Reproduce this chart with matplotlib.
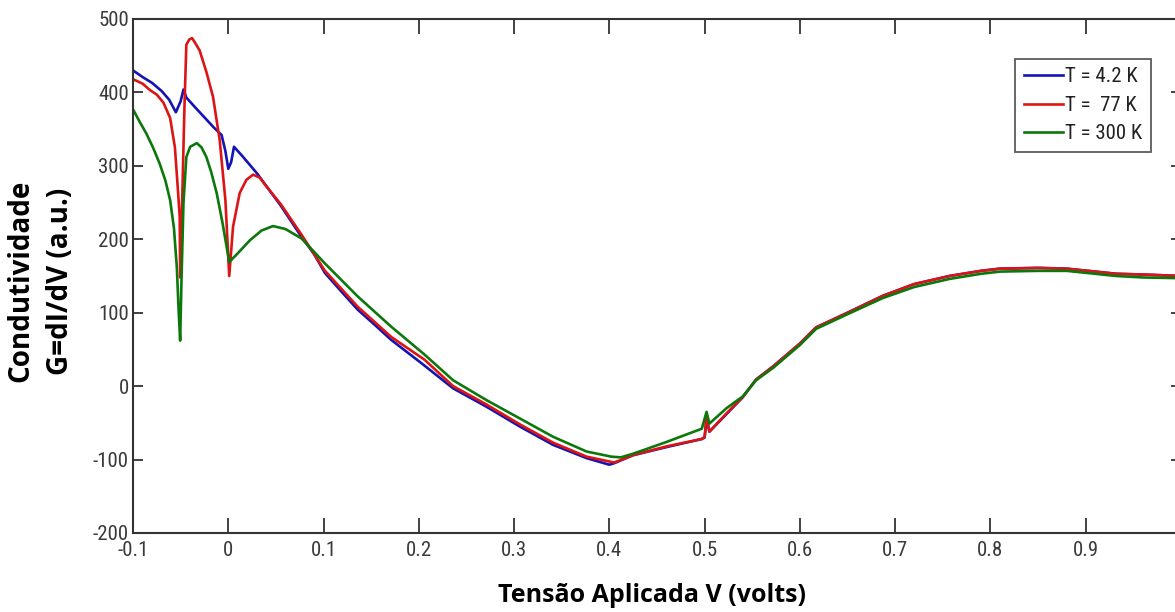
import matplotlib
matplotlib.use("Agg")
import matplotlib.pyplot as plt
from matplotlib import font_manager
from matplotlib.font_manager import FontProperties

# Conductance curves G = dI/dV at three temperatures
v_42 = [-0.100, -0.090, -0.080, -0.070, -0.062, -0.055, -0.050, -0.047, -0.044, -0.035,
        -0.025, -0.015, -0.007, -0.003, 0.000, 0.003, 0.006, 0.015, 0.030, 0.055,
        0.077, 0.090, 0.1015, 0.120, 0.136, 0.155, 0.171, 0.187, 0.203, 0.236,
        0.271, 0.306, 0.341, 0.376, 0.400, 0.405, 0.425, 0.460, 0.497, 0.500,
        0.502, 0.505, 0.523, 0.540, 0.554, 0.572, 0.600, 0.617, 0.650, 0.687,
        0.720, 0.757, 0.790, 0.810, 0.850, 0.880, 0.910, 0.932, 0.960, 1.000]
g_42 = [430, 421, 413, 402, 390, 373, 388, 404, 393, 380,
        366, 352, 342, 320, 296, 305, 326, 313, 290, 246,
        203, 180, 154, 127, 104, 82, 63, 47, 31, -3,
        -28, -55, -80, -98, -107, -105, -94, -83, -72, -70,
        -44, -62, -38, -15, 9, 27, 58, 80, 100, 123,
        139, 150, 157, 160, 161, 160, 156, 153, 152, 150]

v_77 = [-0.100, -0.090, -0.082, -0.075, -0.068, -0.061, -0.056, -0.053, -0.051, -0.0505,
        -0.049, -0.046, -0.044, -0.041, -0.038, -0.035, -0.030, -0.023, -0.016, -0.009,
        -0.003, 0.001, 0.005, 0.012, 0.019, 0.026, 0.033, 0.040, 0.055, 0.077,
        0.1015, 0.136, 0.171, 0.206, 0.236, 0.271, 0.306, 0.341, 0.376, 0.405,
        0.425, 0.460, 0.497, 0.500, 0.502, 0.505, 0.523, 0.540, 0.554, 0.572,
        0.600, 0.617, 0.650, 0.687, 0.720, 0.757, 0.790, 0.810, 0.850, 0.880,
        0.910, 0.932, 0.960, 1.000]
g_77 = [418, 412, 403, 397, 386, 365, 325, 270, 231, 148,
        220, 380, 465, 472, 474, 468, 457, 428, 394, 335,
        253, 150, 217, 263, 281, 288, 284, 272, 248, 206,
        157, 108, 67, 36, 0, -25, -52, -77, -96, -104,
        -94, -82, -72, -69, -42, -62, -37, -15, 9, 27,
        58, 80, 100, 123, 139, 150, 157, 160, 161, 160,
        156, 153, 152, 150]

v_300 = [-0.100, -0.093, -0.086, -0.079, -0.072, -0.066, -0.061, -0.057, -0.054, -0.052,
         -0.0505, -0.049, -0.047, -0.044, -0.040, -0.033, -0.028, -0.023, -0.018, -0.012,
         -0.006, 0.001, 0.010, 0.023, 0.035, 0.047, 0.060, 0.077, 0.1015, 0.136,
         0.171, 0.206, 0.236, 0.271, 0.306, 0.341, 0.376, 0.402, 0.412, 0.425,
         0.460, 0.497, 0.502, 0.505, 0.523, 0.540, 0.554, 0.572, 0.600, 0.617,
         0.650, 0.687, 0.720, 0.757, 0.790, 0.810, 0.850, 0.880, 0.910, 0.932,
         0.960, 1.000]
g_300 = [377, 360, 344, 325, 303, 280, 253, 215, 162, 100,
         62, 150, 250, 312, 326, 331, 325, 312, 292, 262,
         222, 169, 181, 199, 212, 218, 214, 201, 167, 122,
         81, 43, 8, -19, -44, -69, -89, -96, -97, -92,
         -76, -58, -35, -51, -30, -14, 8, 25, 56, 78,
         98, 120, 135, 146, 153, 156, 157, 157, 153, 150,
         148, 147]

labels = ["T = 4.2 K", "T =  77 K", "T = 300 K"]
colors = ["#1414b4", "#dc1414", "#0c780c"]

x_ticks = [-0.1, 0, 0.1, 0.2, 0.3, 0.4, 0.5, 0.6, 0.7, 0.8, 0.9]
x_ticklabels = ["-0.1", "0", "0.1", "0.2", "0.3", "0.4", "0.5", "0.6", "0.7", "0.8", "0.9"]
y_ticks = [-200, -100, 0, 100, 200, 300, 400, 500]
y_ticklabels = ["-200", "-100", "0", "100", "200", "300", "400", "500"]


def narrow_font():
    """Prefer a narrow sans face for the tick and legend text."""
    regular = [f for f in font_manager.fontManager.ttflist
               if f.style == "normal" and f.weight in (400, "normal", "regular")]
    for key in ("Liberation Sans Narrow", "Arial Narrow", "Roboto Condensed",
                "DejaVuSansCondensed", "Condensed", "Narrow"):
        for f in regular:
            if key in f.name or key in f.fname:
                if "Bold" in f.fname or "Oblique" in f.fname or "Italic" in f.fname:
                    continue
                return FontProperties(fname=f.fname), True
    return FontProperties(family="Liberation Sans"), False


tick_fp, is_narrow = narrow_font()
tick_size = 15 if is_narrow else 12.5
label_font = "Open Sans"

W, H = 1175, 612
fig = plt.figure(figsize=(W / 100, H / 100), dpi=100)
ax = fig.add_axes([133 / W, (H - 533) / H, 1048 / W, 514 / H])

for v, g, lab, c in zip([v_42, v_77, v_300], [g_42, g_77, g_300], labels, colors):
    ax.plot(v, g, color=c, lw=1.9, label=lab)

ax.set_xlim(-0.1, 1.0)
ax.set_ylim(-200, 500)
ax.set_xticks(x_ticks)
ax.set_xticklabels(x_ticklabels)
ax.set_yticks(y_ticks)
ax.set_yticklabels(y_ticklabels)

for lab in ax.get_xticklabels() + ax.get_yticklabels():
    lab.set_fontproperties(tick_fp)
    lab.set_fontsize(tick_size)
    lab.set_color("#3a3a3a")

ax.tick_params(axis="x", direction="in", length=11, width=1.3, color="#333333",
               top=True, pad=6)
ax.tick_params(axis="y", direction="in", length=7, width=1.3, color="#333333",
               right=True, pad=3)
for s in ax.spines.values():
    s.set_color("#333333")
    s.set_linewidth(1.5)

leg_fp = tick_fp.copy()
leg_fp.set_size(tick_size)
leg = ax.legend(loc="upper left", bbox_to_anchor=(0.842, 0.922), frameon=True,
                fancybox=False, edgecolor="#333333", handlelength=1.9,
                handletextpad=0.1, borderpad=0.4, labelspacing=0.45,
                borderaxespad=0.0, prop=leg_fp)
leg.get_frame().set_linewidth(1.3)
for t in leg.get_texts():
    t.set_color("#222222")

fig.text(40.5 / W, 1 - 281 / H, "Condutividade\nG=dI/dV (a.u.)", rotation=90,
         ha="center", va="center", multialignment="center",
         fontsize=20, fontweight="bold", family=label_font, linespacing=1.5)
fig.text(652 / W, 1 - 596 / H, "Tensão Aplicada V (volts)", ha="center", va="center",
         fontsize=18, fontweight="bold", family=label_font)

fig.savefig("out.png", dpi=100)
